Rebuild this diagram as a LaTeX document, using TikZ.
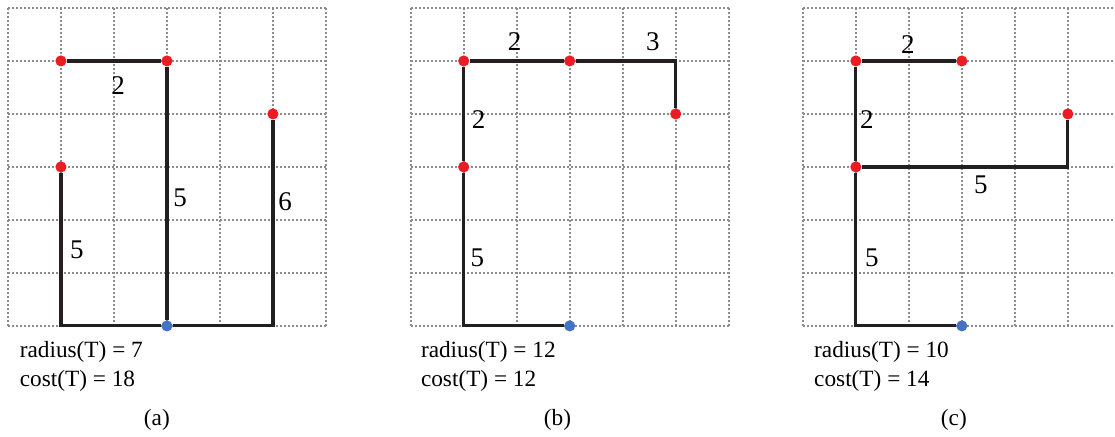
\documentclass[tikz,border=0pt]{standalone}
\usepackage{fontspec}
\setmainfont{Liberation Serif}
\usepackage{tikz}
\usetikzlibrary{positioning}
\definecolor{noktaKirmizi}{HTML}{EC1C24}
\definecolor{noktaMavi}{HTML}{4472C4}
\definecolor{izgaraGri}{HTML}{8C8C8C}
\definecolor{kenarSiyah}{HTML}{231F20}
\tikzset{
  gridline/.style={izgaraGri,line width=1.05pt,dash pattern=on 1.05pt off 1.1pt},
  treeedge/.style={kenarSiyah,line width=1.7pt},
  terminal/.style={circle,fill=noktaKirmizi,inner sep=0pt,minimum size=0.21cm},
  source/.style={circle,fill=noktaMavi,inner sep=0pt,minimum size=0.21cm},
  weight/.style={font=\fontsize{14.5}{16}\selectfont},
  info/.style={font=\fontsize{12.5}{14}\selectfont,anchor=west},
  caption/.style={font=\fontsize{12.5}{14}\selectfont}
}

\begin{document}
\begin{tikzpicture}[scale=1.0]
\useasboundingbox (-0.15,-2.08) rectangle (20.89,6.15);
% (a)
\begin{scope}
\draw[gridline] (0,0) grid (6,6);
\node[source] (sa) at (3,0) {};
\node[terminal] (ta1) at (1,5) {};
\node[terminal] (ta2) at (3,5) {};
\node[terminal] (ta3) at (5,4) {};
\node[terminal] (ta4) at (1,3) {};
\coordinate (ca1) at (1,0);
\coordinate (ca2) at (5,0);
\draw[treeedge] (ta1) -- (ta2) -- (sa);
\draw[treeedge] (ta4) -- (ca1) -- (sa) -- (ca2) -- (ta3);
\node[weight] (wa1) at (2.08,4.53) {2};
\node[weight] (wa2) at (3.25,2.42) {5};
\node[weight] (wa3) at (5.23,2.34) {6};
\node[weight] (wa4) at (1.3,1.43) {5};
\node[info] (ra) at (0.1,-0.49) {radius(T) = 7};
\node[info] (ka) at (0.1,-1.04) {cost(T) = 18};
\node[caption] (la) at (2.81,-1.77) {(a)};
\end{scope}
% (b)
\begin{scope}[xshift=7.6cm]
\draw[gridline] (0,0) grid (6,6);
\node[source] (sb) at (3,0) {};
\node[terminal] (tb1) at (1,5) {};
\node[terminal] (tb2) at (3,5) {};
\node[terminal] (tb3) at (5,4) {};
\node[terminal] (tb4) at (1,3) {};
\coordinate (cb1) at (1,0);
\coordinate (cb2) at (5,5);
\draw[treeedge] (sb) -- (cb1) -- (tb4) -- (tb1) -- (tb2) -- (cb2) -- (tb3);
\node[weight] (wb1) at (1.96,5.36) {2};
\node[weight] (wb2) at (4.57,5.36) {3};
\node[weight] (wb3) at (1.28,3.89) {2};
\node[weight] (wb4) at (1.26,1.28) {5};
\node[info] (rb) at (0.07,-0.49) {radius(T) = 12};
\node[info] (kb) at (0.07,-1.04) {cost(T) = 12};
\node[caption] (lb) at (2.77,-1.77) {(b)};
\end{scope}
% (c)
\begin{scope}[xshift=15.0cm]
\draw[gridline] (0,0) grid (6,6);
\node[source] (sc) at (3,0) {};
\node[terminal] (tc1) at (1,5) {};
\node[terminal] (tc2) at (3,5) {};
\node[terminal] (tc3) at (5,4) {};
\node[terminal] (tc4) at (1,3) {};
\coordinate (cc1) at (1,0);
\coordinate (cc2) at (5,3);
\draw[treeedge] (sc) -- (cc1) -- (tc4) -- (tc1) -- (tc2);
\draw[treeedge] (tc4) -- (cc2) -- (tc3);
\node[weight] (wc1) at (1.98,5.3) {2};
\node[weight] (wc2) at (1.21,3.89) {2};
\node[weight] (wc3) at (3.36,2.66) {5};
\node[weight] (wc4) at (1.3,1.28) {5};
\node[info] (rc) at (0.09,-0.49) {radius(T) = 10};
\node[info] (kc) at (0.09,-1.04) {cost(T) = 14};
\node[caption] (lc) at (2.85,-1.77) {(c)};
\end{scope}
\end{tikzpicture}
\end{document}
